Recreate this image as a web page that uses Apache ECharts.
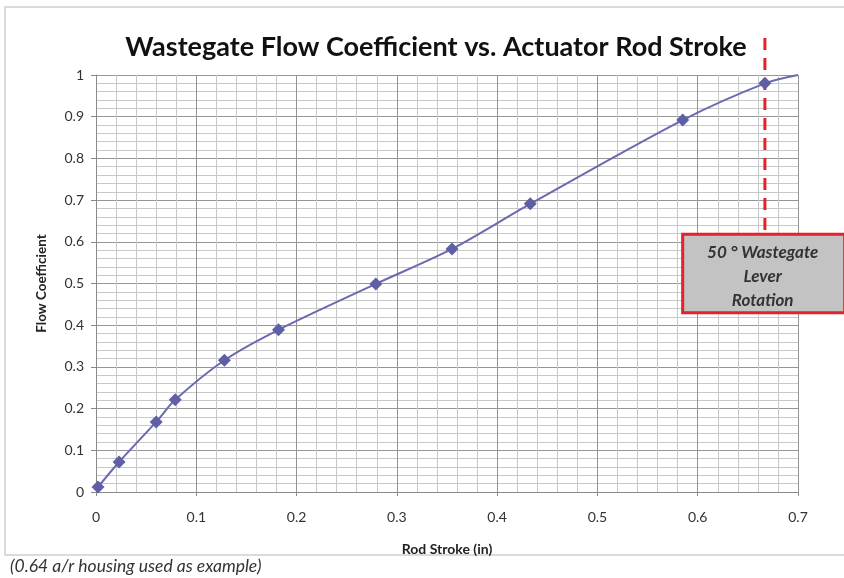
<!DOCTYPE html>
<html>
<head>
<meta charset="utf-8">
<title>Wastegate Flow Coefficient vs. Actuator Rod Stroke</title>
<script src="https://cdn.jsdelivr.net/npm/echarts@6/dist/echarts.min.js"></script>
<style>
  html, body { margin: 0; padding: 0; background: #fff; }
  #chart { width: 844px; height: 578px; }
</style>
</head>
<body>
<div id="chart"></div>
<script>
// data
const rodStroke = [0.002, 0.023, 0.060, 0.079, 0.128, 0.182, 0.279, 0.355, 0.433, 0.585, 0.667, 0.700];
const flowCoef  = [0.012, 0.072, 0.168, 0.221, 0.316, 0.389, 0.499, 0.583, 0.691, 0.892, 0.980, 1.000];
// last point only continues the line to the edge, no marker
const hasMarker = [true, true, true, true, true, true, true, true, true, true, true, false];

const leverStroke = 0.667;
const noteLines = ['50 ° Wastegate', 'Lever', 'Rotation'];
const footNote = '(0.64 a/r housing used as example)';

const FONT = 'Lato, "Open Sans", sans-serif';

const chart = echarts.init(document.getElementById('chart'));

const points = rodStroke.map((x, i) => ({
    value: [x, flowCoef[i]],
    symbol: hasMarker[i] ? 'diamond' : 'none'
}));

chart.setOption({
    animation: false,
    backgroundColor: '#fff',
    title: {
        text: 'Wastegate Flow Coefficient vs. Actuator Rod Stroke',
        left: 431,
        textAlign: 'center',
        top: 29,
        textStyle: { fontFamily: FONT, fontSize: 27, fontWeight: 'bold', color: '#111' }
    },
    grid: { left: 96, right: 46, top: 75, bottom: 86 },
    xAxis: {
        type: 'value',
        min: 0, max: 0.7, interval: 0.1,
        name: 'Rod Stroke (in)',
        nameLocation: 'middle',
        nameGap: 50,
        nameTextStyle: { fontFamily: FONT, fontSize: 14, fontWeight: 'bold', color: '#222' },
        axisLine: { lineStyle: { color: '#8a8a8a' } },
        axisTick: { show: true, length: 4, lineStyle: { color: '#8a8a8a' } },
        minorTick: { show: false, splitNumber: 5 },
        axisLabel: { fontFamily: FONT, fontSize: 14, color: '#333', margin: 18 },
        splitLine: { show: true, lineStyle: { color: '#959595', width: 1 } },
        minorSplitLine: { show: true, lineStyle: { color: '#c8c8c8', width: 1 } }
    },
    yAxis: {
        type: 'value',
        min: 0, max: 1, interval: 0.1,
        name: 'Flow Coefficient',
        nameLocation: 'middle',
        nameGap: 47,
        nameTextStyle: { fontFamily: FONT, fontSize: 13.5, fontWeight: 'bold', color: '#222' },
        axisLine: { show: true, lineStyle: { color: '#8a8a8a' } },
        axisTick: { show: true, length: 5, lineStyle: { color: '#8a8a8a' } },
        minorTick: { show: false, splitNumber: 5 },
        axisLabel: { fontFamily: FONT, fontSize: 14, color: '#333', margin: 12 },
        splitLine: { show: true, lineStyle: { color: '#959595', width: 1 } },
        minorSplitLine: { show: true, lineStyle: { color: '#c8c8c8', width: 1 } }
    },
    series: [{
        type: 'line',
        data: points,
        smooth: 0.3,
        symbolSize: 13,
        clip: false,
        lineStyle: { color: '#6a6aae', width: 2 },
        itemStyle: { color: '#5f5fa6' }
    }]
});

// annotation: red dashed line at the lever stroke and the grey note box
function drawNote() {
    const top = chart.convertToPixel({ gridIndex: 0 }, [leverStroke, 1]);
    const boxTopLeft = chart.convertToPixel({ gridIndex: 0 }, [0.585, 0.618]);
    const boxBottom = chart.convertToPixel({ gridIndex: 0 }, [0.585, 0.43]);
    const boxW = 162;
    const boxH = boxBottom[1] - boxTopLeft[1];
    const cx = boxTopLeft[0] + 80;

    chart.setOption({
        graphic: [
            {
                type: 'line',
                z: 1,
                shape: { x1: top[0], y1: top[1] - 37, x2: top[0], y2: boxTopLeft[1] },
                style: { stroke: '#e3222b', lineWidth: 3, lineDash: [12, 8] }
            },
            {
                type: 'rect',
                z: 10,
                shape: { x: boxTopLeft[0], y: boxTopLeft[1], width: boxW, height: boxH },
                style: { fill: '#c3c3c3', stroke: '#e3222b', lineWidth: 3 }
            },
            ...noteLines.map((t, i) => ({
                type: 'text',
                z: 11,
                x: cx,
                y: boxTopLeft[1] + 18 + i * 24,
                style: {
                    text: t,
                    fontFamily: FONT,
                    fontSize: 17,
                    fontWeight: 'bold',
                    fontStyle: 'italic',
                    fill: '#333',
                    textAlign: 'center',
                    textVerticalAlign: 'middle'
                }
            })),
            {
                type: 'rect',
                z: 0,
                silent: true,
                shape: { x: 5, y: 7, width: 850, height: 548 },
                style: { fill: 'none', stroke: '#d0d0d0', lineWidth: 1.5 }
            },
            {
                type: 'text',
                x: 10,
                y: 566,
                style: {
                    text: footNote,
                    fontFamily: FONT,
                    fontSize: 17.5,
                    fontStyle: 'italic',
                    fill: '#333',
                    textVerticalAlign: 'middle'
                }
            }
        ]
    });
}

drawNote();
</script>
</body>
</html>
